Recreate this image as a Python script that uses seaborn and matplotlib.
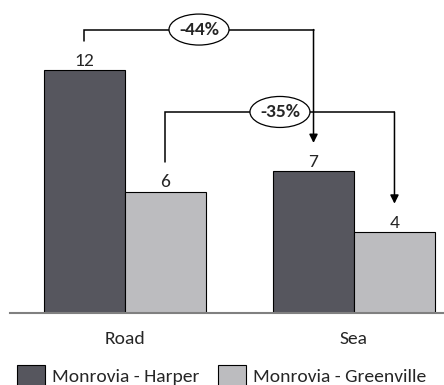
import matplotlib
matplotlib.use("Agg")
import matplotlib.pyplot as plt
from matplotlib.patches import Ellipse
from matplotlib.transforms import ScaledTranslation
import seaborn as sns
import pandas as pd

# data
modes = ["Road", "Sea"]
routes = ["Monrovia - Harper", "Monrovia - Greenville"]
harper = [12, 7]
greenville = [6, 4]
changes = ["-44%", "-35%"]
colors = {"Monrovia - Harper": "#55555f", "Monrovia - Greenville": "#bbbbbf"}

df = pd.DataFrame({
    "mode": modes * 2,
    "route": [routes[0]] * 2 + [routes[1]] * 2,
    "value": harper + greenville,
})

sns.set_style("white")
plt.rcParams["font.family"] = ["Carlito", "DejaVu Sans"]
fs = 14

fig = plt.figure(figsize=(4.44, 3.85), dpi=100)
ax = fig.add_axes([10 / 444, 72 / 385, 434 / 444, 313 / 385])

sns.barplot(data=df, x="mode", y="value", hue="route", palette=colors,
            width=0.707, edgecolor="black", linewidth=0.8, ax=ax)

ax.set_xlim(-0.502, 1.393)
ax.set_ylim(0, 15.46)
ax.set_xlabel("")
ax.set_ylabel("")
ax.set_yticks([])
for s in ["top", "right", "left"]:
    ax.spines[s].set_visible(False)
ax.spines["bottom"].set_color("#808080")
ax.spines["bottom"].set_linewidth(1.5)
ax.tick_params(axis="x", length=0, pad=13, labelsize=fs)

for cont in ax.containers:
    ax.bar_label(cont, padding=1, fontsize=fs)

# brackets from Road bar to matching Sea bar
bars_h = ax.containers[0].patches
bars_g = ax.containers[1].patches
tops = [14.0, 9.93]
for bars, top, lab in zip([bars_h, bars_g], tops, changes):
    b0, b1 = bars[0], bars[1]
    x0 = b0.get_x() + b0.get_width() / 2
    x1 = b1.get_x() + b1.get_width() / 2
    y0 = b0.get_height() + 1.45
    y1 = b1.get_height() + 1.4
    ax.plot([x0, x0, x1, x1], [y0, top, top, top - 0.01], color="black", lw=1.1,
            solid_joinstyle="miter", clip_on=False, zorder=3)
    ax.annotate("", xy=(x1, y1), xytext=(x1, top),
                arrowprops=dict(arrowstyle="-|>,head_length=0.5,head_width=0.25",
                                color="black", lw=1.1, shrinkA=0, shrinkB=0), zorder=3)
    xm = (x0 + x1) / 2
    tr = fig.dpi_scale_trans + ScaledTranslation(xm, top, ax.transData)
    ax.add_artist(Ellipse((0, 0), 0.60, 0.31, transform=tr, fc="white", ec="black",
                          lw=0.9, zorder=4, clip_on=False))
    ax.text(xm, top, lab, ha="center", va="center", fontsize=fs,
            fontweight="bold", zorder=5)

handles, labels = ax.get_legend_handles_labels()
ax.get_legend().remove()
fig.legend(handles, labels, loc="center left", bbox_to_anchor=(17 / 444, 9 / 385),
           ncol=2, frameon=False, fontsize=fs, handlelength=1.44, handleheight=1.44,
           handletextpad=0.36, columnspacing=0.95, borderpad=0, borderaxespad=0)

fig.savefig("out.png", dpi=100)
